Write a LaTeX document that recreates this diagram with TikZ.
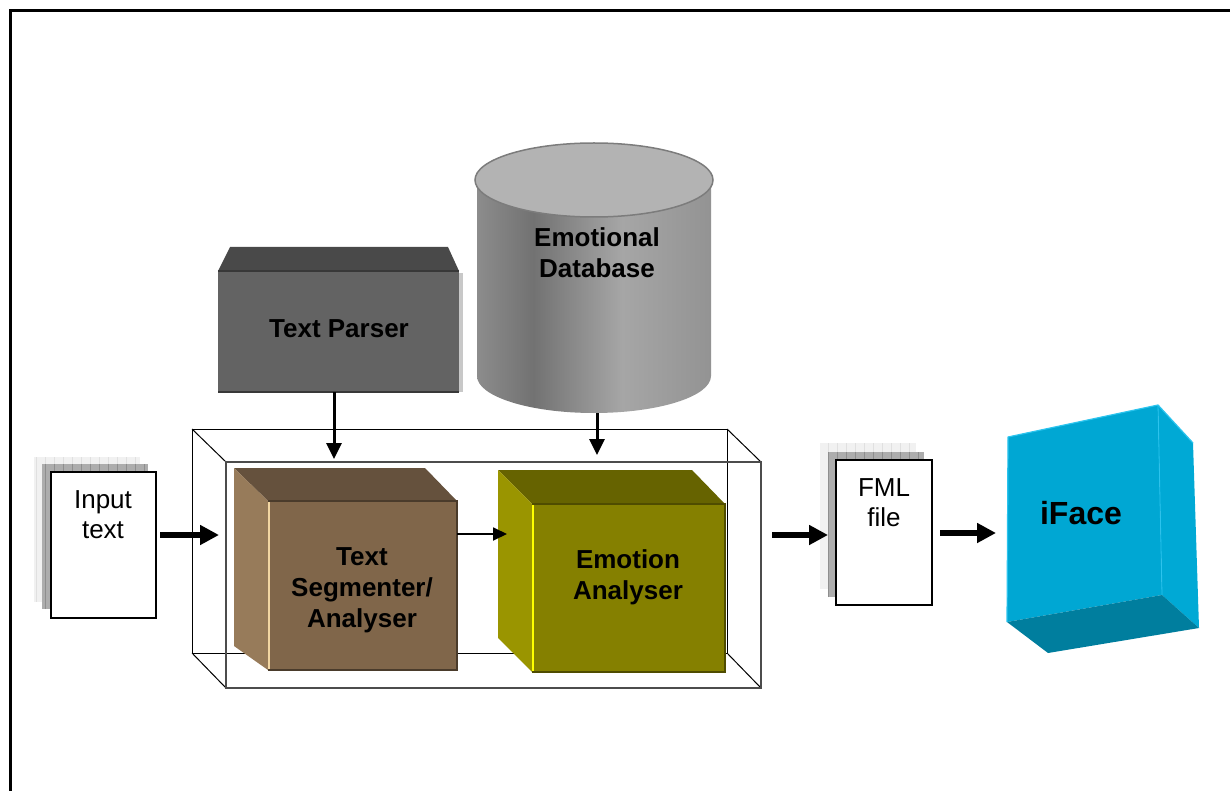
\documentclass[tikz,border=0pt]{standalone}
\usepackage{fontspec}
\setmainfont{Liberation Sans}
\usetikzlibrary{arrows.meta}

% palette
\definecolor{parserFront}{HTML}{636363}
\definecolor{parserTop}{HTML}{494949}
\definecolor{parserEdge}{HTML}{383838}
\definecolor{parserShade}{HTML}{C8C8C8}
\definecolor{segFront}{HTML}{80664A}
\definecolor{segTop}{HTML}{65513D}
\definecolor{segSide}{HTML}{977B5A}
\definecolor{segEdge}{HTML}{4A3B2B}
\definecolor{segLight}{HTML}{F2D6A2}
\definecolor{emoFront}{HTML}{858000}
\definecolor{emoTop}{HTML}{666300}
\definecolor{emoSide}{HTML}{9A9500}
\definecolor{emoEdge}{HTML}{4F4C00}
\definecolor{emoLight}{HTML}{FFFF00}
\definecolor{faceFront}{HTML}{00A7D3}
\definecolor{faceSide}{HTML}{00A9D5}
\definecolor{faceBottom}{HTML}{007E9E}
\definecolor{faceEdge}{HTML}{2CC4EE}
\definecolor{cylA}{HTML}{8C8C8C}
\definecolor{cylB}{HTML}{727272}
\definecolor{cylC}{HTML}{A6A6A6}
\definecolor{cylD}{HTML}{939393}
\definecolor{cylTop}{HTML}{B3B3B3}
\definecolor{cylRim}{HTML}{7C7C7C}
\definecolor{pageBack}{HTML}{F1F1F1}
\definecolor{pageBackGrid}{HTML}{E0E0E0}
\definecolor{pageMid}{HTML}{ADADAD}
\definecolor{pageMidGrid}{HTML}{8E8E8E}

% cylinder body: dark band left of centre, bright band right of centre
\pgfdeclarehorizontalshading{cylbody}{100bp}{color(0bp)=(cylA); color(25bp)=(cylA);
  color(37bp)=(cylB); color(56bp)=(cylC); color(75bp)=(cylD); color(100bp)=(cylD)}

\tikzset{
  label/.style={font=\fontsize{26}{31}\selectfont\bfseries, align=center, text=black},
  doclabel/.style={font=\fontsize{26}{30}\selectfont, align=center, text=black},
  fatarrow/.style={line width=5.5pt, -{Triangle[length=19pt,width=19pt]}},
  midarrow/.style={line width=3pt, -{Triangle[length=16pt,width=15pt]}},
  thinarrow/.style={line width=1.8pt, -{Triangle[length=14pt,width=13pt]}},
  backpage/.style={fill=pageBack},
  backgrid/.style={draw=pageBackGrid, line width=0.6pt, step=9},
  midpage/.style={fill=pageMid},
  midgrid/.style={draw=pageMidGrid, line width=0.6pt, step=9},
  frontpage/.style={draw=black, line width=1.5pt, fill=white},
  wire/.style={draw=black, line width=1pt},
  wirefront/.style={draw=black!70, line width=1.2pt},
}

\begin{document}
\begin{tikzpicture}[x=1pt, y=-1pt]
\useasboundingbox (0,0) rectangle (1230,791);

% page frame (left and top sides)
\draw[line width=3pt] (10,800) -- (10,11) -- (1240,11);

% ---------- input document stack ----------
\fill[backpage] (34,457) rectangle (140,602);
\draw[backgrid] (34,457) grid (140,602);
\fill[midpage] (42,464) rectangle (148,609);
\draw[midgrid] (42,464) grid (148,609);
\node[frontpage, minimum width=105pt, minimum height=146pt, inner sep=0pt] (inDoc) at (103.5,545) {};
\node[doclabel] (inText) at (103,515) {Input\\text};

% ---------- processing enclosure (wire-frame box) ----------
\coordinate (wb1) at (192,429); \coordinate (wb2) at (727,429);
\coordinate (wb3) at (727,653); \coordinate (wb4) at (192,653);
\coordinate (wf1) at (226,462); \coordinate (wf2) at (761,462);
\coordinate (wf3) at (761,688); \coordinate (wf4) at (226,688);
\draw[wire] (wb1) -- (wb2) -- (wb3) -- (wb4) -- cycle;
\draw[wire] (wb1) -- (wf1) (wb2) -- (wf2) (wb3) -- (wf3) (wb4) -- (wf4);
\draw[wirefront] (wf1) -- (wf2) -- (wf3) -- (wf4) -- cycle;

% ---------- Text Segmenter / Analyser block ----------
\fill[segTop] (234,468) -- (425,468) -- (457,501) -- (268,501) -- cycle;
\fill[segSide] (234,468) -- (268,501) -- (268,670) -- (234,646) -- cycle;
\node[fill=segFront, minimum width=189pt, minimum height=169pt, inner sep=0pt] (seg) at (362.5,585.5) {};
\draw[segEdge, line width=2pt] (268,501) -- (457,501) -- (457,670) -- (268,670);
\draw[segLight, line width=2pt] (269,502) -- (269,669);
\node[label] (segText) at (362,590) {Text\\Segmenter/\\Analyser};

% ---------- Emotion Analyser block ----------
\fill[emoTop] (498,470) -- (692,470) -- (725,504) -- (532,504) -- cycle;
\fill[emoSide] (498,470) -- (532,504) -- (532,672) -- (498,638) -- cycle;
\node[fill=emoFront, minimum width=193pt, minimum height=168pt, inner sep=0pt] (emo) at (628.5,588) {};
\draw[emoEdge, line width=2pt] (532,504) -- (725,504) -- (725,672) -- (532,672);
\draw[emoLight, line width=2pt] (533,505) -- (533,671);
\node[label] (emoText) at (628,577) {Emotion\\Analyser};

% ---------- Text Parser block ----------
\fill[parserTop] (230,247) -- (448,247) -- (459,271) -- (218,271) -- cycle;
\fill[parserShade] (459,273) rectangle (463,392);
\node[fill=parserFront, minimum width=241pt, minimum height=121pt, inner sep=0pt] (parser) at (338.5,331.5) {};
\draw[parserEdge, line width=2pt] (218,271) -- (459,271);
\draw[parserEdge, line width=2pt] (218,392) -- (459,392);
\node[label] (parserText) at (339,329) {Text Parser};

% ---------- Emotional Database cylinder ----------
\shade[shading=cylbody] (477,180) -- (477,376)
  arc[start angle=180, end angle=0, x radius=117, y radius=37] -- (711,180) -- cycle;
\filldraw[fill=cylTop, draw=cylRim, line width=1.5pt] (594,180) ellipse[x radius=119, y radius=37];
\node[label] (dbText) at (597,253) {Emotional\\Database};

% ---------- FML document stack ----------
\fill[backpage] (820,443) rectangle (916,589);
\draw[backgrid] (820,443) grid (916,589);
\fill[midpage] (828,452) rectangle (924,597);
\draw[midgrid] (828,452) grid (924,597);
\node[frontpage, minimum width=96pt, minimum height=145pt, inner sep=0pt] (fmlDoc) at (884,532.5) {};
\node[doclabel] (fmlText) at (884,503) {FML\\file};

% ---------- iFace block ----------
\fill[faceFront] (1008,437) -- (1158,405) -- (1162,595) -- (1007,622) -- cycle;
\fill[faceSide] (1158,405) -- (1193,443) -- (1199,628) -- (1162,595) -- cycle;
\fill[faceBottom] (1007,622) -- (1162,595) -- (1199,628) -- (1048,653) -- cycle;
\draw[faceEdge, line width=1.2pt, line join=round] (1007,622) -- (1008,437) -- (1158,405) -- (1193,443);
\draw[faceEdge, line width=0.8pt] (1158,405) -- (1162,595);
\node[font=\fontsize{32}{38}\selectfont\bfseries] (iface) at (1081,513) {iFace};

% ---------- connectors ----------
\coordinate (inStart) at (160,535);
\coordinate (encIn) at (219,535);
\coordinate (parserOut) at (334,392);
\coordinate (segIn) at (334,459);
\coordinate (dbOut) at (597,413);
\coordinate (emoIn) at (597,455);
\coordinate (segOut) at (457,534);
\coordinate (emoSideIn) at (507,534);
\coordinate (encOut) at (772,535);
\coordinate (fmlIn) at (828,535);
\coordinate (fmlOut) at (940,533);
\coordinate (faceIn) at (996,533);

\draw[fatarrow] (inStart) -- (encIn);
\draw[midarrow] (parserOut) -- (segIn);
\draw[midarrow] (dbOut) -- (emoIn);
\draw[thinarrow] (segOut) -- (emoSideIn);
\draw[fatarrow] (encOut) -- (fmlIn);
\draw[fatarrow] (fmlOut) -- (faceIn);
\end{tikzpicture}
\end{document}
